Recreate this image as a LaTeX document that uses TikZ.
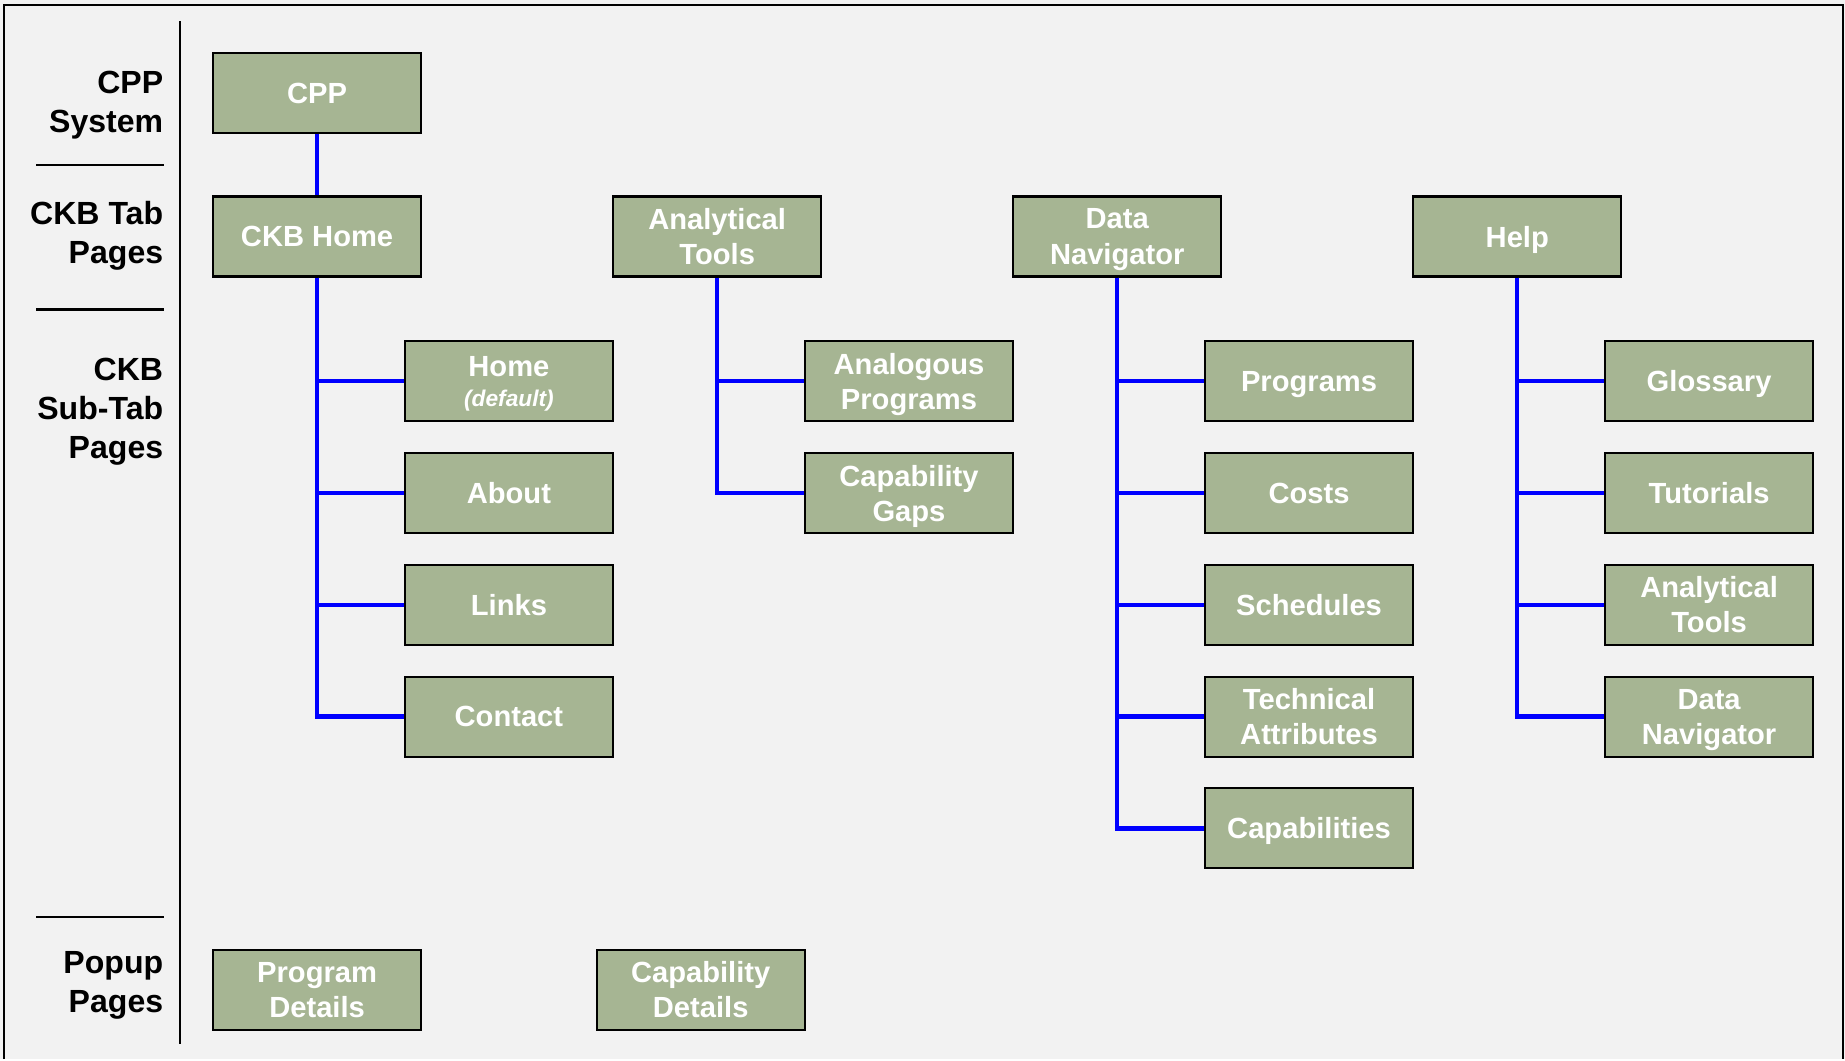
\documentclass[tikz,border=0pt]{standalone}
\usepackage{fontspec}
\setmainfont{Liberation Sans}
\definecolor{boxgreen}{HTML}{A6B593}
\definecolor{pagebg}{HTML}{F2F2F2}
\begin{document}
\begin{tikzpicture}[x=0.02cm,y=-0.02cm]
  \tikzset{page/.style={draw=black, line width=1pt, fill=boxgreen, text=white,
      font=\fontsize{14.1}{17}\selectfont\bfseries, align=center, text depth=0pt,
      minimum width=3.54cm, minimum height=1.36cm, inner sep=0pt},
    level/.style={anchor=east, align=right, inner sep=0pt, text depth=0pt,
      font=\fontsize{15.5}{18.8}\selectfont\bfseries},
    rule/.style={draw=black, line width=1pt},
    link/.style={draw=blue, line width=2.1pt}}
  \fill[pagebg] (0,0) rectangle (1568,900);
  \draw[rule] (3.5,900) -- (3.5,4) -- (1566,4) -- (1566,900);
  \draw[rule] (153,18) -- (153,887);
  \foreach \y in {140,263,779} \draw[rule] (31,\y) -- (139,\y);
  % level labels
  \node[level] (lsystem) at (139,86.5) {CPP\\System};
  \node[level] (ltab) at (139,197.5) {CKB Tab\\Pages};
  \node[level] (lsubtab) at (139,347) {CKB\\Sub-Tab\\Pages};
  \node[level] (lpopup) at (139,834.5) {Popup\\Pages};
  % system and tab pages
  \node[page] (cpp) at (269.5,79) {CPP};
  \node[page] (ckbhome) at (269.5,201) {CKB Home};
  \node[page] (antools) at (609.5,201) {Analytical\\Tools};
  \node[page] (datanav) at (949.5,201) {Data\\Navigator};
  \node[page] (help) at (1289.5,201) {Help};
  % sub-tab pages
  \node[page] (home) at (432.5,324) {Home\\[-2.5pt]{\fontsize{11}{13}\selectfont\itshape (default)}};
  \node[page] (about) at (432.5,419) {About};
  \node[page] (links) at (432.5,514) {Links};
  \node[page] (contact) at (432.5,609) {Contact};
  \node[page] (analog) at (772.5,324) {Analogous\\Programs};
  \node[page] (capgaps) at (772.5,419) {Capability\\Gaps};
  \node[page] (programs) at (1112.5,324) {Programs};
  \node[page] (costs) at (1112.5,419) {Costs};
  \node[page] (schedules) at (1112.5,514) {Schedules};
  \node[page] (techattr) at (1112.5,609) {Technical\\Attributes};
  \node[page] (capabilities) at (1112.5,704) {Capabilities};
  \node[page] (glossary) at (1452.5,324) {Glossary};
  \node[page] (tutorials) at (1452.5,419) {Tutorials};
  \node[page] (helptools) at (1452.5,514) {Analytical\\Tools};
  \node[page] (helpnav) at (1452.5,609) {Data\\Navigator};
  % popup pages
  \node[page] (progdet) at (269.5,841) {Program\\Details};
  \node[page] (capdet) at (595.5,841) {Capability\\Details};
  % connectors
  \draw[link] (cpp.south) -- (ckbhome.north);
  \foreach \p/\c in {ckbhome/home, ckbhome/about, ckbhome/links, ckbhome/contact,
      antools/analog, antools/capgaps,
      datanav/programs, datanav/costs, datanav/schedules, datanav/techattr, datanav/capabilities,
      help/glossary, help/tutorials, help/helptools, help/helpnav}
    \draw[link] (\p.south) |- (\c.west);
\end{tikzpicture}
\end{document}
